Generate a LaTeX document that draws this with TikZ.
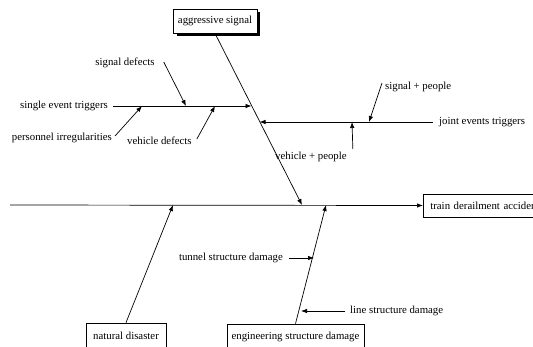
\documentclass[tikz,border=0pt]{standalone}
\usepackage{fontspec}
\setmainfont{Liberation Serif}
\usetikzlibrary{arrows.meta}
\begin{document}
\begin{tikzpicture}[x=1pt,y=-1pt,
  every node/.style={font=\fontsize{10.8}{12}\selectfont, inner sep=0pt},
  box/.style={draw, line width=0.7pt, minimum height=24pt, fill=white},
  lbl/.style={},
  conn/.style={line width=0.7pt, -{Latex[length=6pt,width=4.5pt]}},
  bare/.style={line width=0.7pt}]
\useasboundingbox (0,0) rectangle (533,346);
\clip (0,0) rectangle (533,346);

% boxes
\fill (176.5,11.5) rectangle (259.5,35.5);
\node[box, minimum width=84pt] (agg) at (215,21) {aggressive signal};
\node[box, anchor=west, minimum width=125pt, text width=111pt, align=left, minimum height=23pt] (train) at (423,205.5) {train derailment accident};
\node[box, minimum width=80pt, minimum height=26pt] (nat) at (126,336) {natural disaster};
\node[box, minimum width=137pt, minimum height=26pt] (eng) at (295.5,337) {engineering structure damage};

% end coordinates
\coordinate (spineL) at (10,205);
\coordinate (aggEnd) at (302,205);
\coordinate (natEnd) at (173,205);
\coordinate (engEnd) at (326,205);
\coordinate (setEnd) at (251.5,106);
\coordinate (jetEnd) at (259.5,122);
\coordinate (sdEnd) at (186,106);
\coordinate (piEnd) at (142,106);
\coordinate (vdEnd) at (215,106);
\coordinate (spEnd) at (369,122);
\coordinate (vpEnd) at (352,122);
\coordinate (tsEnd) at (314,258);
\coordinate (lsEnd) at (301,311);

% labels
\node[lbl, anchor=east] (set) at (108,106) {single event triggers};
\node[lbl] (sd) at (125,63) {signal defects};
\node[lbl, anchor=east] (pi) at (112,138) {personnel irregularities};
\node[lbl, anchor=west] (vd) at (127,141) {vehicle defects};
\node[lbl, anchor=west] (jet) at (439,122) {joint events triggers};
\node[lbl, anchor=west] (sp) at (385,87) {signal + people};
\node[lbl, anchor=west] (vp) at (275,157) {vehicle + people};
\node[lbl, anchor=east] (ts) at (283,258) {tunnel structure damage};
\node[lbl, anchor=west] (ls) at (350,311) {line structure damage};

% spine
\draw[conn] (spineL) -- (train.west);
% main bones
\draw[conn] (agg.south) -- (aggEnd);
\draw[conn] (nat.north) -- (natEnd);
\draw[conn] (eng.north) -- (engEnd);
\draw[conn] ([xshift=5pt]set.east) -- (setEnd);
\draw[conn] ([xshift=-6pt]jet.west) -- (jetEnd);
% sub bones
\draw[conn] ([xshift=9pt,yshift=1pt]sd.east) -- (sdEnd);
\draw[conn] ([xshift=3pt,yshift=2pt]pi.east) -- (piEnd);
\draw[conn] ([xshift=5pt,yshift=2pt]vd.east) -- (vdEnd);
\draw[conn] ([xshift=-3pt,yshift=4pt]sp.west) -- (spEnd);
\draw[conn] ([xshift=6pt,yshift=8pt]vp.east) -- (vpEnd);
\draw[conn] ([xshift=6pt]ts.east) -- (tsEnd);
\draw[conn] ([xshift=-5pt]ls.west) -- (lsEnd);
\end{tikzpicture}
\end{document}
